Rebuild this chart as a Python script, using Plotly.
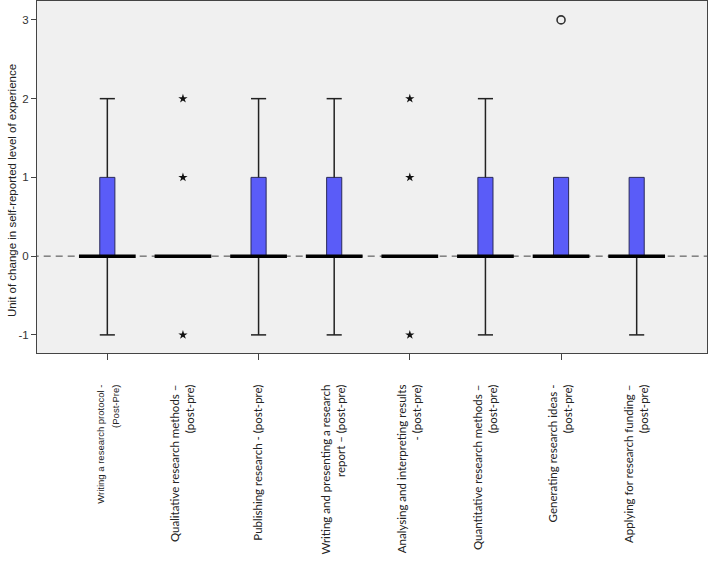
import plotly.graph_objects as go

categories = [
    '<span style="font-family:Liberation Sans;font-size:9.5px">Writing a research protocol -<br>(Post-Pre)</span>',
    "Qualitative research methods –<br>(post-pre)",
    "Publishing research - (post-pre)",
    "Writing and presenting a research<br>report – (post-pre)",
    "Analysing and interpreting results<br>- (post-pre)",
    "Quantitative research methods –<br>(post-pre)",
    "Generating research ideas -<br>(post-pre)",
    "Applying for research funding –<br>(post-pre)",
]
q1 = [0, 0, 0, 0, 0, 0, 0, 0]
median = [0, 0, 0, 0, 0, 0, 0, 0]
q3 = [1, 0, 1, 1, 0, 1, 1, 1]
whisker_low = [-1, 0, -1, -1, 0, -1, 0, -1]
whisker_high = [2, 0, 2, 2, 0, 2, 1, 1]
extreme_x = [1, 1, 1, 4, 4, 4]
extreme_y = [2, 1, -1, 2, 1, -1]
outlier_x = [6]
outlier_y = [3]
y_tickvals = [-1, 0, 1, 2, 3]
y_ticktext = ["-1", "0", "1", "2", "3"]
y_title = "Unit of change in self-reported level of experience"

pos = list(range(len(categories)))
BOX_HW = 0.1
MED_HW = 0.375
CAP_HW = 0.1

fig = go.Figure()

# zero reference line
fig.add_trace(go.Scatter(x=[-1, 8], y=[0, 0], mode="lines",
                         line=dict(color="#444444", width=1, dash="7px,5px"),
                         hoverinfo="skip", showlegend=False))

# whiskers
wx, wy = [], []
for i, lo, hi, a, b in zip(pos, whisker_low, whisker_high, q1, q3):
    if lo < a:
        wx += [i, i, None, i - CAP_HW, i + CAP_HW, None]
        wy += [lo, a, None, lo, lo, None]
    if hi > b:
        wx += [i, i, None, i - CAP_HW, i + CAP_HW, None]
        wy += [b, hi, None, hi, hi, None]
fig.add_trace(go.Scatter(x=wx, y=wy, mode="lines",
                         line=dict(color="#222222", width=1.5),
                         hoverinfo="skip", showlegend=False))

# boxes
bx = [i for i, a, b in zip(pos, q1, q3) if b > a]
bb = [a for a, b in zip(q1, q3) if b > a]
bh = [b - a for a, b in zip(q1, q3) if b > a]
fig.add_trace(go.Bar(x=bx, y=bh, base=bb, width=2 * BOX_HW,
                     marker=dict(color="#5a5cf8", line=dict(color="#2a2a5a", width=1)),
                     showlegend=False))

# medians
mx, my = [], []
for i, m in zip(pos, median):
    mx += [i - MED_HW, i + MED_HW, None]
    my += [m, m, None]
fig.add_trace(go.Scatter(x=mx, y=my, mode="lines",
                         line=dict(color="#000000", width=3.5),
                         hoverinfo="skip", showlegend=False))

# extreme values (stars)
fig.add_trace(go.Scatter(x=extreme_x, y=extreme_y, mode="markers",
                         marker=dict(symbol="star", size=7, color="#111111"),
                         showlegend=False))
# outliers (open circle)
fig.add_trace(go.Scatter(x=outlier_x, y=outlier_y, mode="markers",
                         marker=dict(symbol="circle-open", size=8, color="#333333",
                                     line=dict(color="#333333", width=1.6)),
                         showlegend=False))

fig.add_annotation(text=y_title, xref="paper", yref="paper", x=0, y=0.46,
                   xanchor="center", yanchor="middle", xshift=-25, textangle=-90,
                   showarrow=False,
                   font=dict(size=11.5, family="Liberation Sans", color="#222222"))

fig.update_layout(
    width=709, height=569,
    margin=dict(l=37, r=2, t=1, b=216),
    paper_bgcolor="white",
    plot_bgcolor="#f0f0f0",
    font=dict(family="Lato, Liberation Sans, sans-serif", color="#222222"),
    barmode="overlay",
    xaxis=dict(
        range=[-0.93, 7.93],
        tickmode="array", tickvals=pos, ticktext=categories,
        tickangle=-90, ticks="",
        tickfont=dict(size=11.5, family="Lato", color="#222222"),
        ticklabelstandoff=26,
        showline=True, mirror=True, linecolor="#444444", linewidth=1,
        showgrid=False, zeroline=False,
        minor=dict(tickmode="array", tickvals=[0, 2, 4, 6], ticks="outside",
                   ticklen=6, tickcolor="#444444", showgrid=False),
    ),
    yaxis=dict(
        range=[-1.23, 3.24],
        tickmode="array", tickvals=y_tickvals, ticktext=y_ticktext,
        ticks="outside", ticklen=5, tickcolor="#444444",
        tickfont=dict(size=11.5, family="Liberation Sans", color="#333333"),
        showline=True, mirror=True, linecolor="#444444", linewidth=1,
        showgrid=False, zeroline=False,
    ),
)

fig.write_html("out.html", config={"displayModeBar": False},
               post_script="document.body.style.margin='0';")
